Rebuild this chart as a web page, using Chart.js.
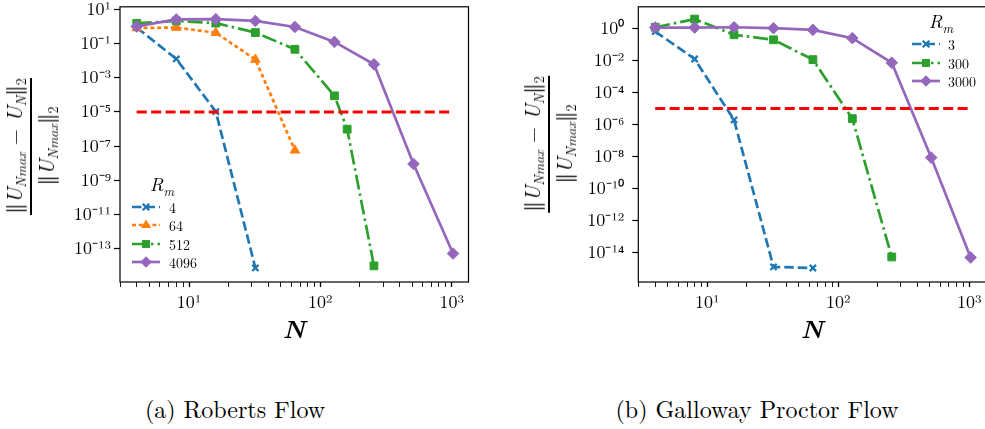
<!DOCTYPE html>
<html><head><meta charset="utf-8">
<script src="https://cdn.jsdelivr.net/npm/chart.js@4/dist/chart.umd.min.js"></script>
<style>
html,body{margin:0;padding:0;background:#fff;width:985px;height:429px;overflow:hidden;font-family:'Latin Modern Roman',serif;color:#000;}
canvas{position:absolute;top:0;}
.frac{position:absolute;transform:translate(-50%,-50%) rotate(-90deg);text-align:center;font-size:21px;white-space:nowrap;line-height:1;}
.frac .num{border-bottom:2px solid #000;padding:0 1px 3px;}
.frac .den{padding-top:3px;display:inline-block;}
.frac sub{font-size:14px;vertical-align:-4px;}
.frac b{font-weight:bold;}
.xl{position:absolute;font-size:25px;font-style:italic;font-weight:bold;transform:translate(-50%,-50%);}
.cap{position:absolute;font-size:24px;transform:translate(-50%,-50%);white-space:nowrap;}
.lg{position:absolute;font-size:14px;}
.lg .t{position:absolute;font-size:19px;font-style:italic;white-space:nowrap;transform:translate(-50%,-50%);}
.lg .t sub{font-size:13px;}
.lg .row{position:absolute;height:14px;white-space:nowrap;}
.lg .row svg{position:absolute;left:0;top:0;}
.lg .row span{position:absolute;top:50%;transform:translateY(-50%);}
</style></head>
<body>
<canvas id="c1" width="485" height="318" style="left:0px"></canvas>
<canvas id="c2" width="500" height="318" style="left:500px"></canvas>

<div class="frac" style="left:31px;top:146px"><div class="num"><b>‖</b><i>U</i><sub><i>Nmax</i></sub> − <i>U</i><sub><i>N</i></sub><b>‖</b><sub>2</sub></div><div class="den"><b>‖</b><i>U</i><sub><i>Nmax</i></sub><b>‖</b><sub>2</sub></div></div>
<div class="frac" style="left:549px;top:144px"><div class="num"><b>‖</b><i>U</i><sub><i>Nmax</i></sub> − <i>U</i><sub><i>N</i></sub><b>‖</b><sub>2</sub></div><div class="den"><b>‖</b><i>U</i><sub><i>Nmax</i></sub><b>‖</b><sub>2</sub></div></div>

<div class="xl" style="left:294px;top:327px">N</div>
<div class="xl" style="left:812px;top:327px">N</div>
<div class="cap" style="left:235px;top:408px">(a) Roberts Flow</div>
<div class="cap" style="left:757px;top:408px">(b) Galloway Proctor Flow</div>

<div class="lg" id="lg1"></div>
<div class="lg" id="lg2"></div>

<script>
// ---------------- data ----------------
// (a) Roberts flow
const N_ROB_4    = [4, 8, 16, 32];
const ERR_ROB_4  = [0.9, 0.013, 1.05e-5, 7e-15];
const N_ROB_64   = [4, 8, 16, 32, 64];
const ERR_ROB_64 = [0.85, 0.9, 0.45, 0.012, 5.6e-8];
const N_ROB_512  = [4, 8, 16, 32, 64, 128, 160, 256];
const ERR_ROB_512 = [1.6, 2.2, 1.65, 0.46, 0.048, 8.9e-5, 9.8e-7, 9.3e-15];
const N_ROB_4096 = [4, 8, 16, 32, 64, 128, 256, 512, 1024];
const ERR_ROB_4096 = [1.05, 2.7, 2.8, 2.2, 0.98, 0.13, 0.0063, 8.9e-9, 4.9e-14];
const LABELS_ROB = ['4', '64', '512', '4096'];

// (b) Galloway Proctor flow
const N_GP_3     = [4, 8, 16, 32, 64];
const ERR_GP_3   = [0.62, 0.012, 1.9e-6, 1.3e-15, 1.1e-15];
const N_GP_300   = [4, 8, 16, 32, 64, 128, 256];
const ERR_GP_300 = [1.15, 3.7, 0.39, 0.19, 0.011, 2.3e-6, 5.4e-15];
const N_GP_3000  = [4, 8, 16, 32, 64, 128, 256, 512, 1024];
const ERR_GP_3000 = [1.1, 1.1, 1.15, 1.0, 0.79, 0.24, 0.007, 8.5e-9, 5e-15];
const LABELS_GP = ['3', '300', '3000'];

// tolerance line
const TOL_N = [4, 1024];
const TOL_ERR = [1e-5, 1e-5];

// ticks
const X_TICKS = [3,4,5,6,7,8,9,10,20,30,40,50,60,70,80,90,100,200,300,400,500,600,700,800,900,1000];
const Y_EXP_ROB = [1, -1, -3, -5, -7, -9, -11, -13];
const Y_EXP_GP  = [0, -2, -4, -6, -8, -10, -12, -14];

// ---------------- styles ----------------
const FONT = "'Latin Modern Roman', serif";
const STY = {
  blue:   {color:'#1f77b4', dash:[9.5,4],      pt:'crossRot', r:4.4, bw:2.3},
  orange: {color:'#ff7f0e', dash:[4,2.8],      pt:'triangle', r:5.5, bw:1},
  green:  {color:'#2ca02c', dash:[15,4,2.5,4], pt:'rect',     r:5.5, bw:1},
  purple: {color:'#9467bd', dash:[],           pt:'rectRot',  r:5.8, bw:1}
};
const LW = 2.7;

const SUP = {'-':'⁻','0':'⁰','1':'¹','2':'²','3':'³','4':'⁴','5':'⁵','6':'⁶','7':'⁷','8':'⁸','9':'⁹'};
const supStr = e => String(e).split('').map(c=>SUP[c]).join('');
const isPow10 = v => Math.abs(Math.log10(v) - Math.round(Math.log10(v))) < 1e-9;

function pts(xs, ys){ return xs.map((x,i)=>({x:x, y:ys[i]})); }
function series(label, xs, ys, s, order){
  return {label, data:pts(xs,ys), borderColor:s.color, backgroundColor:s.color,
    borderWidth:LW, borderDash:s.dash, pointStyle:s.pt, pointRadius:s.r,
    pointBorderWidth:s.bw, pointBorderColor:s.color, pointBackgroundColor:s.color,
    pointHoverRadius:s.r, tension:0, fill:false, order};
}

const framePlugin = {
  id:'frame',
  afterDatasetsDraw(chart){
    const a = chart.chartArea, ctx = chart.ctx;
    ctx.save(); ctx.strokeStyle='#000'; ctx.lineWidth=1.2;
    ctx.strokeRect(a.left, a.top, a.right-a.left, a.bottom-a.top);
    ctx.restore();
  }
};

function makeChart(id, datasets, cfg){
  return new Chart(document.getElementById(id), {
    type:'line',
    data:{datasets},
    plugins:[framePlugin],
    options:{
      responsive:false, animation:false, devicePixelRatio:1,
      layout:{padding:{top:cfg.top, right:cfg.right, left:0, bottom:0}},
      plugins:{legend:{display:false}, tooltip:{enabled:false}},
      scales:{
        x:{type:'logarithmic', min:cfg.xmin, max:cfg.xmax,
          afterBuildTicks:s=>{ s.ticks = X_TICKS.filter(v=>v>=cfg.xmin && v<=cfg.xmax).map(v=>({value:v, major:isPow10(v)})); },
          afterFit:s=>{ s.height = cfg.h - cfg.bottom; s.paddingLeft=0; s.paddingRight=0; },
          ticks:{autoSkip:false, maxRotation:0, padding:5, color:'#000', font:{family:FONT, size:18},
            callback:v=> isPow10(v) ? '10'+supStr(Math.round(Math.log10(v))) : ''},
          grid:{drawOnChartArea:false, drawTicks:true, tickLength:5, tickColor:'#000',
            tickWidth:c=> (c.tick && isPow10(c.tick.value)) ? 1.3 : 0.9},
          border:{display:false}
        },
        y:{type:'logarithmic', min:cfg.ymin, max:cfg.ymax,
          afterBuildTicks:s=>{ s.ticks = cfg.yexp.map(e=>({value:Math.pow(10,e)})); },
          afterFit:s=>{ s.width = cfg.left; s.paddingTop=0; s.paddingBottom=0; },
          ticks:{autoSkip:false, padding:cfg.ypad, color:'#000', font:{family:FONT, size:18},
            callback:v=>'10'+supStr(Math.round(Math.log10(v)))},
          grid:{drawOnChartArea:false, drawTicks:true, tickLength:6, tickColor:'#000', tickWidth:1.2},
          border:{display:false}
        }
      }
    }
  });
}

const tolDs = () => ({label:'tol', data:pts(TOL_N, TOL_ERR), borderColor:'#ff0000', borderWidth:3,
  borderDash:[10,4.4], pointRadius:0, pointHoverRadius:0, tension:0, fill:false, order:0});

function drawAll(){
makeChart('c1', [
  series(LABELS_ROB[0], N_ROB_4, ERR_ROB_4, STY.blue, 4),
  series(LABELS_ROB[1], N_ROB_64, ERR_ROB_64, STY.orange, 3),
  series(LABELS_ROB[2], N_ROB_512, ERR_ROB_512, STY.green, 2),
  series(LABELS_ROB[3], N_ROB_4096, ERR_ROB_4096, STY.purple, 1),
  tolDs()
], {h:318, top:4, bottom:282, left:120, right:485-468.5, ypad:3,
    xmin:Math.pow(10,0.4745), xmax:Math.pow(10,3.128), ymin:Math.pow(10,-14.98), ymax:Math.pow(10,1.174), yexp:Y_EXP_ROB});

makeChart('c2', [
  series(LABELS_GP[0], N_GP_3, ERR_GP_3, STY.blue, 3),
  series(LABELS_GP[1], N_GP_300, ERR_GP_300, STY.green, 2),
  series(LABELS_GP[2], N_GP_3000, ERR_GP_3000, STY.purple, 1),
  tolDs()
], {h:318, top:3.3, bottom:282, left:138.3, right:500-486.8, ypad:8,
    xmin:Math.pow(10,0.473), xmax:Math.pow(10,3.134), ymin:Math.pow(10,-15.83), ymax:Math.pow(10,1.336), yexp:Y_EXP_GP});
}
if (document.fonts && document.fonts.load) {
  document.fonts.load("18px 'Latin Modern Roman'").then(drawAll, drawAll);
} else drawAll();

// ---------------- legends (HTML) ----------------
function markerSvg(s, cx, cy){
  const c = s.color, r = s.r;
  if (s.pt==='crossRot') { const d=r*0.75; return `<path d="M${cx-d} ${cy-d}L${cx+d} ${cy+d}M${cx-d} ${cy+d}L${cx+d} ${cy-d}" stroke="${c}" stroke-width="2.3"/>`; }
  if (s.pt==='triangle') { return `<path d="M${cx} ${cy-r}L${cx+r*0.9} ${cy+r*0.55}L${cx-r*0.9} ${cy+r*0.55}Z" fill="${c}"/>`; }
  if (s.pt==='rect') { const h=r*0.72; return `<rect x="${cx-h}" y="${cy-h}" width="${2*h}" height="${2*h}" fill="${c}"/>`; }
  return `<path d="M${cx} ${cy-r}L${cx+r} ${cy}L${cx} ${cy+r}L${cx-r} ${cy}Z" fill="${c}"/>`;
}
function buildLegend(id, labels, styles, o){
  const el = document.getElementById(id);
  let html = `<div class="t" style="left:${o.tx}px;top:${o.ty}px">R<sub>m</sub></div>`;
  labels.forEach((lab,i)=>{
    const s = styles[i], y = o.y0 + i*o.dy, w = o.sw;
    html += `<div class="row" style="left:${o.x}px;top:${y-7}px;width:90px">
      <svg width="${w}" height="14"><line x1="0" y1="7" x2="${w}" y2="7" stroke="${s.color}" stroke-width="${LW}" stroke-dasharray="${s.dash.join(' ')||'none'}"/>${markerSvg(s, w/2, 7)}</svg>
      <span style="left:${o.tx0}px">${lab}</span></div>`;
  });
  el.innerHTML = html;
}
buildLegend('lg1', LABELS_ROB, [STY.blue, STY.orange, STY.green, STY.purple],
  {tx:162, ty:185, x:132, y0:206.5, dy:18.5, sw:28, tx0:37});
buildLegend('lg2', LABELS_GP, [STY.blue, STY.green, STY.purple],
  {tx:941, ty:22, x:912, y0:44, dy:18.5, sw:28, tx0:36});
</script>
</body></html>
